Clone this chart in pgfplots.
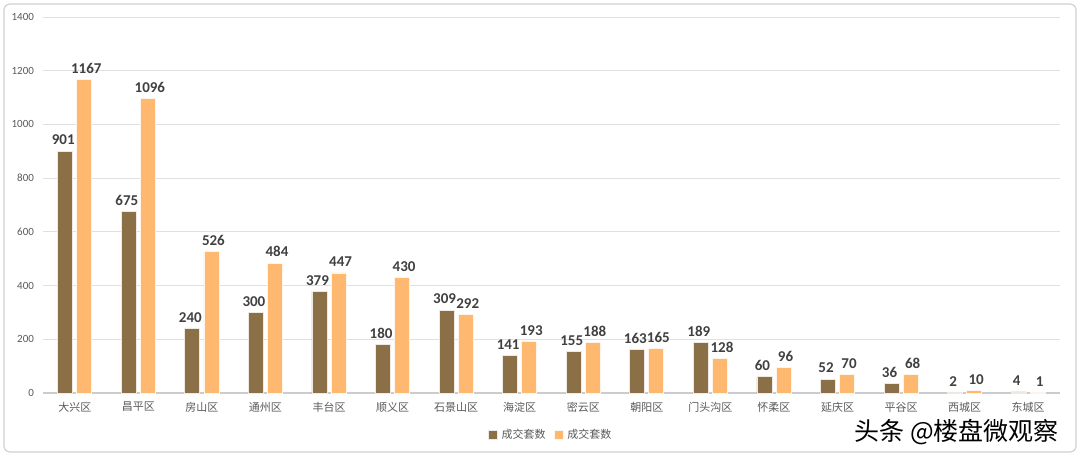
\documentclass[border=0pt]{standalone}
\usepackage{fontspec}
\setmainfont{Carlito}
\newfontfamily\cjk{Noto Sans CJK SC}
\usepackage{pgfplots}
\pgfplotsset{compat=1.18}
\definecolor{brownbar}{RGB}{139,111,71}
\definecolor{orangebar}{RGB}{255,184,112}
\definecolor{gridgray}{RGB}{224,224,224}
\definecolor{ticktext}{RGB}{89,89,89}
\definecolor{labeltext}{RGB}{64,64,64}

\begin{document}
\begin{tikzpicture}
\path[use as bounding box] (0,0) rectangle (540pt,228pt);
\draw[rounded corners=3pt, draw=black!18, line width=0.6pt] (2pt,2pt) rectangle (538pt,226pt);
\begin{axis}[
  at={(21.5pt,31.5pt)}, anchor=south west,
  scale only axis, width=508.5pt, height=188pt,
  ymin=0, ymax=1400, ytick={0,200,...,1400},
  xmin=-0.5, xmax=15.5,
  xtick={0,...,15},
  xticklabels={大兴区,昌平区,房山区,通州区,丰台区,顺义区,石景山区,海淀区,密云区,朝阳区,门头沟区,怀柔区,延庆区,平谷区,西城区,东城区},
  x tick label style={font=\cjk\fontsize{5.5}{6}\selectfont, text=ticktext, yshift=-1pt},
  y tick label style={font=\fontsize{5.5}{6}\selectfont, text=ticktext, xshift=-1pt},
  /pgf/number format/assume math mode=true,
  /pgf/number format/1000 sep={},
  ymajorgrids, grid style={gridgray, line width=0.5pt},
  axis x line*=bottom, axis y line*=left,
  x axis line style={draw=black!20, line width=0.6pt},
  y axis line style={draw=none},
  major tick length=0pt,
  ybar, bar width=0.236,
  nodes near coords,
  every node near coord/.append style={font=\bfseries\fontsize{7.5}{9}\selectfont, text=labeltext, yshift=-0.5pt, inner xsep=0.5pt},
  legend style={at={(0.5,-0.075)}, anchor=north, draw=none, fill=none, legend columns=2,
    font=\cjk\fontsize{5.5}{6}\selectfont, text=ticktext,
    /tikz/every even column/.append style={column sep=2pt}},
  legend image code/.code={\fill[#1] (0pt,-2pt) rectangle (4.5pt,2.5pt);},
  clip=false,
]
\addplot[bar shift=-0.15, fill=brownbar, draw=white!85!brownbar, line width=0.4pt,
  every node near coord/.append style={xshift=-1pt}] coordinates {
(0,901) (1,675) (2,240) (3,300) (4,379) (5,180) (6,309) (7,141)
(8,155) (9,163) (10,189) (11,60) (12,52) (13,36) (14,2) (15,4)};
\addlegendentry{成交套数}
\addplot[bar shift=0.15, fill=orangebar, draw=white!85!orangebar, line width=0.4pt,
  every node near coord/.append style={xshift=1pt}] coordinates {
(0,1167) (1,1096) (2,526) (3,484) (4,447) (5,430) (6,292) (7,193)
(8,188) (9,165) (10,128) (11,96) (12,70) (13,68) (14,10) (15,1)};
\addlegendentry{成交套数}
\end{axis}
\node[font=\cjk\fontsize{12.5}{13}\selectfont, text=black, anchor=east] at (533pt,12pt) {头条 @楼盘微观察};
\end{tikzpicture}
\end{document}
